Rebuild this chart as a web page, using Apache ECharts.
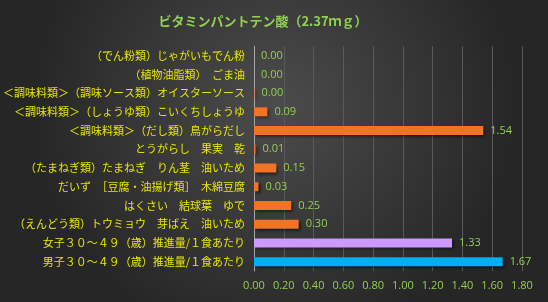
<!DOCTYPE html>
<html><head><meta charset="utf-8">
<script src="https://cdn.jsdelivr.net/npm/echarts@6/dist/echarts.min.js"></script>
<style>html,body{margin:0;padding:0;background:#2a2a2a;}#c{width:548px;height:302px;}</style>
</head><body><div id="c"></div>
<script>
const title = 'ビタミンパントテン酸（2.37ｍｇ）';
const categories = [
  '（でん粉類）じゃがいもでん粉',
  '（植物油脂類）　ごま油',
  '＜調味料類＞（調味ソース類）オイスターソース',
  '＜調味料類＞（しょうゆ類）こいくちしょうゆ',
  '＜調味料類＞（だし類）鳥がらだし',
  'とうがらし　果実　乾',
  '（たまねぎ類）たまねぎ　りん茎　油いため',
  'だいず　［豆腐・油揚げ類］　木綿豆腐',
  'はくさい　結球葉　ゆで',
  '（えんどう類）トウミョウ　芽ばえ　油いため',
  '女子３０～４９（歳）推進量/１食あたり',
  '男子３０～４９（歳）推進量/１食あたり'
];
const values = [0.00, 0.00, 0.004, 0.09, 1.54, 0.01, 0.15, 0.03, 0.25, 0.30, 1.33, 1.67];
const barColors = ['#f07326','#f07326','#f07326','#f07326','#f07326','#f07326','#f07326','#f07326','#f07326','#f07326','#cc99ff','#00b0f0'];
const xTicks = { min: 0, max: 1.8, interval: 0.2 };

const cats = categories.slice().reverse();
const vals = values.slice().reverse();
const cols = barColors.slice().reverse();
const jp = '"Noto Sans CJK JP", "Noto Sans", sans-serif';

const chart = echarts.init(document.getElementById('c'), null, {renderer:'canvas'});
chart.setOption({
  animation: false,
  backgroundColor: {
    type: 'radial', x: 0.5, y: 0.35, r: 0.8,
    colorStops: [{offset:0, color:'#4c4c4c'},{offset:1, color:'#262626'}]
  },
  title: {
    text: title, left: 258, top: 10, textAlign: 'center',
    textStyle: { color: '#92d050', fontSize: 13, fontWeight: 'bold', fontFamily: jp }
  },
  grid: { left: 253.5, right: 26, top: 46.3, bottom: 31, containLabel: false },
  xAxis: {
    type: 'value', min: xTicks.min, max: xTicks.max, interval: xTicks.interval,
    axisLine: { show: false }, axisTick: { show: false },
    splitLine: { show: true, lineStyle: { color: '#5a5a5a', width: 1 } },
    axisLabel: { color: '#92d050', fontSize: 11, fontFamily: '"Open Sans", sans-serif', margin: 9,
      formatter: v => v.toFixed(2) }
  },
  yAxis: {
    type: 'category', data: cats,
    axisLine: { show: true, lineStyle: { color: '#a6a6a6', width: 1 } },
    axisTick: { show: false },
    axisLabel: { color: '#e6e600', fontSize: 11, fontFamily: jp, margin: 9 }
  },
  series: [{
    type: 'bar', data: vals.map((v,i)=>({value:v, itemStyle:{color:cols[i]}})),
    barWidth: 9,
    itemStyle: { shadowColor: 'rgba(0,0,0,0.6)', shadowBlur: 3, shadowOffsetX: 2, shadowOffsetY: 2 },
    label: { show: true, position: 'right', distance: 7, color: '#92d050', fontSize: 11,
      fontFamily: '"Open Sans", sans-serif', formatter: p => p.value.toFixed(2) }
  }]
});
</script></body></html>
